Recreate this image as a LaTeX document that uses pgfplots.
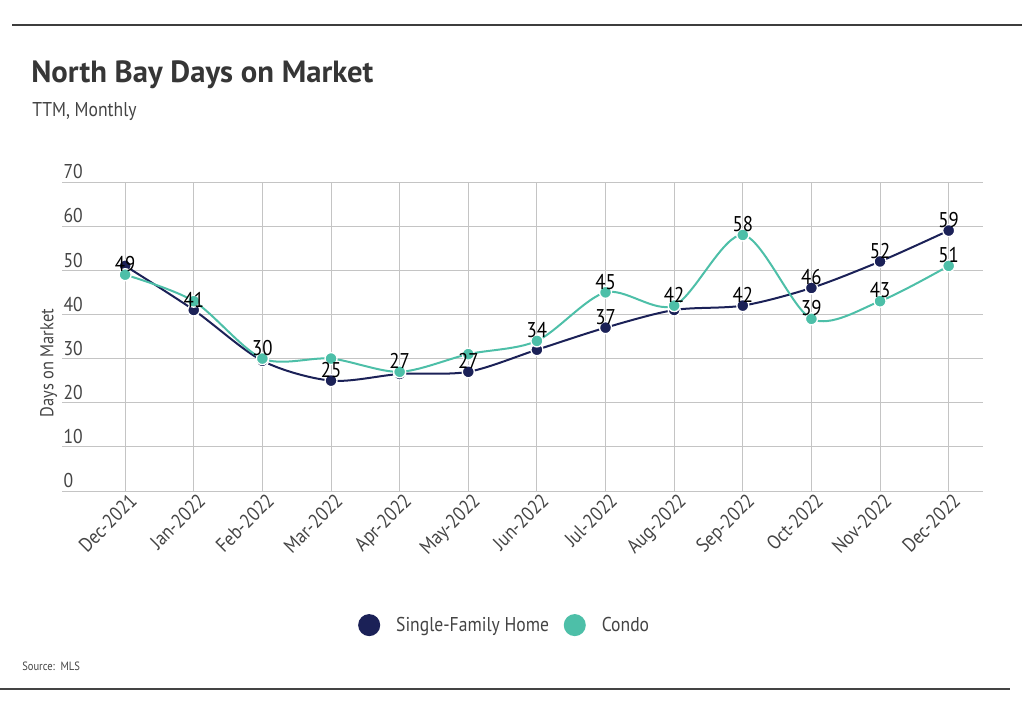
\documentclass[border=0pt]{standalone}
\usepackage{pgfplots}
\usepackage{pgfplotstable}
\pgfplotsset{compat=1.18}
\usepackage{fontspec}
\setmainfont{PT Sans}
\newfontfamily\narrow[FakeStretch=0.88]{PT Sans}
\definecolor{navy}{HTML}{1B2157}
\definecolor{teal}{HTML}{4DBFA8}
\definecolor{txt}{HTML}{444444}
\definecolor{gridc}{HTML}{C4C4C4}
\newcommand{\px}[2]{({#1*0.75pt},{-#2*0.75pt})}

\pgfplotstableread{
x sfh sfhl condo condol
0  51   {}  49 49
1  41   41  43 {}
2  29.5 {}  30 30
3  25   25  30 {}
4  26.5 {}  27 27
5  27   27  31 {}
6  32   {}  34 34
7  37   37  45 45
8  41   {}  42 42
9  42   42  58 58
10 46   46  39 39
11 52   52  43 43
12 59   59  51 51
}\data

\begin{document}
\begin{tikzpicture}
\path[use as bounding box] (0,0) rectangle (766.5pt,-537pt);
\draw[color=txt!90!black, line width=1.1pt] \px{12}{25} -- \px{1022}{25};
\draw[color=txt, line width=1.1pt] \px{0}{689} -- \px{1010}{689};
\node[anchor=base west, font=\bfseries\fontsize{23}{26}\selectfont, text=txt!80!black, inner sep=0pt] at \px{31}{83} {North Bay Days on Market};
\node[anchor=base west, font=\narrow\fontsize{15}{18}\selectfont, text=txt, inner sep=0pt] at \px{32}{117} {TTM, Monthly};
\node[anchor=base west, font=\narrow\fontsize{9}{11}\selectfont, text=txt, inner sep=0pt] at \px{22}{671} {Source:\ \ MLS};

\begin{axis}[
  at={(46.5pt,-368.25pt)}, anchor=south west,
  scale only axis, width=690.75pt, height=231.75pt,
  xmin=-0.92, xmax=12.5, ymin=0, ymax=70,
  xtick={0,...,12},
  xticklabels={Dec-2021,Jan-2022,Feb-2022,Mar-2022,Apr-2022,May-2022,Jun-2022,Jul-2022,Aug-2022,Sep-2022,Oct-2022,Nov-2022,Dec-2022},
  ytick={0,10,...,70},
  grid=major, grid style={gridc, line width=0.75pt},
  axis line style={draw=none},
  major tick length=0pt,
  tick label style={font=\narrow\fontsize{15}{18}\selectfont, text=txt},
  xticklabel style={rotate=45, anchor=north east, inner sep=1pt, xshift=2pt, yshift=-1pt},
  yticklabel style={anchor=south west, inner sep=1pt, yshift=1pt},
  /pgf/number format/assume math mode=true,
  ylabel={Days on Market},
  ylabel style={font=\narrow\fontsize{14}{16}\selectfont, text=txt, at={(axis description cs:0,0.5)}, anchor=south, xshift=-20pt},
  clip=false,
  legend columns=2,
  legend style={draw=none, at={(0.481,-0.434)}, anchor=center, font=\narrow\fontsize{15}{18}\selectfont, text=txt,
    /tikz/every even column/.append style={column sep=9pt},
    /tikz/every odd column/.append style={column sep=10pt}},
  legend image code/.code={\fill (0.2cm,0) circle (7.5pt);},
  nodes near coords style={font=\narrow\fontsize{16}{18}\selectfont, text=black, anchor=south, inner sep=2pt, yshift=0pt},
]
\addplot[navy, line width=1.5pt, smooth, mark=*, mark size=4.5pt, mark options={fill=navy, draw=white, line width=1pt}] table[x=x, y=sfh] {\data};
\addlegendentry{Single-Family Home}
\addplot[teal, line width=1.5pt, smooth, mark=*, mark size=4.5pt, mark options={fill=teal, draw=white, line width=1pt}] table[x=x, y=condo] {\data};
\addlegendentry{Condo}
\addplot[draw=none, nodes near coords, point meta=explicit symbolic, forget plot] table[x=x, y=sfh, meta=sfhl] {\data};
\addplot[draw=none, nodes near coords, point meta=explicit symbolic, forget plot] table[x=x, y=condo, meta=condol] {\data};
\end{axis}
\end{tikzpicture}
\end{document}
